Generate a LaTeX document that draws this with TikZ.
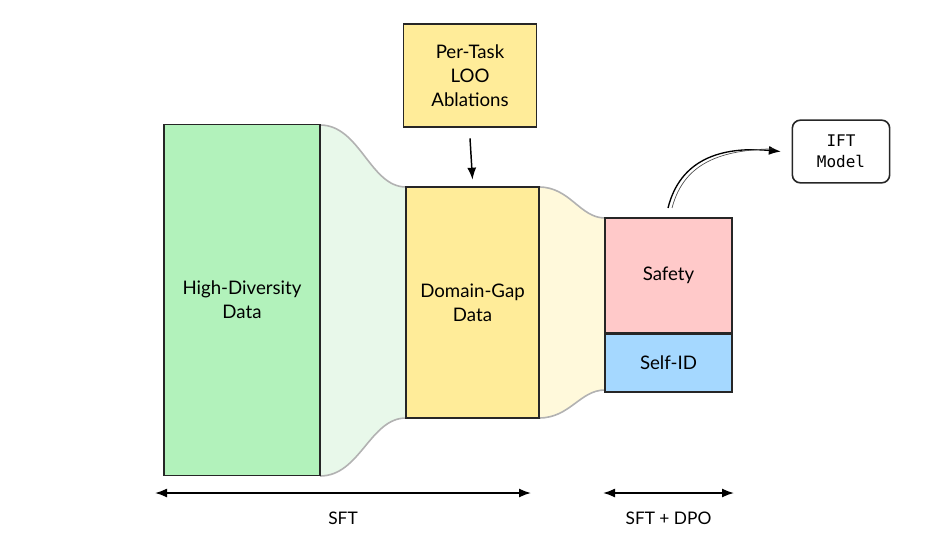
\documentclass[tikz,border=0pt]{standalone}
\usepackage{fontspec}
\setmainfont{Lato}
\setmonofont{DejaVu Sans Mono}
\usetikzlibrary{positioning, arrows.meta}
\definecolor{dgreen}{HTML}{B2F2BB}
\definecolor{lgreen}{HTML}{E8F8EA}
\definecolor{dyellow}{HTML}{FFEC99}
\definecolor{lyellow}{HTML}{FFF9DB}
\definecolor{pinkish}{HTML}{FFC9C9}
\definecolor{bluish}{HTML}{A5D8FF}
\tikzset{
block/.style={draw=black!85, line width=1.2pt, inner sep=0pt, align=center, font=\fontsize{14}{18}\selectfont}, % stage boxes
funnel/.style={draw=black!30, line width=1.2pt}, % transitions between stages
span/.style={{Latex[length=9pt]}-{Latex[length=9pt]}, line width=1.2pt}, % stage ranges
}
\begin{document}
\begin{tikzpicture}[x=0.75pt, y=-0.75pt]
  \useasboundingbox (0,0) rectangle (944,556);
  % funnels
  \fill[lgreen] (320,125) .. controls (360,125) and (370,187) .. (406,187) -- (406,418) .. controls (370,418) and (360,476) .. (320,476) -- cycle;
  \draw[funnel] (320,125) .. controls (360,125) and (370,187) .. (406,187);
  \draw[funnel] (320,476) .. controls (360,476) and (370,418) .. (406,418);
  \fill[lyellow] (539,187) .. controls (570,187) and (580,218) .. (605,218) -- (605,390) .. controls (580,390) and (570,418) .. (539,418) -- cycle;
  \draw[funnel] (539,187) .. controls (570,187) and (580,218) .. (605,218);
  \draw[funnel] (539,418) .. controls (570,418) and (580,390) .. (605,390);
  % stage boxes
  \node[block, fill=dgreen, minimum width=117pt, minimum height=263pt] (hd) at (242,300) {High-Diversity\\Data};
  \node[block, fill=dyellow, minimum width=100pt, minimum height=173pt] (dg) at (472.5,302.5) {Domain-Gap\\Data};
  \node[block, fill=pinkish, minimum width=95pt, minimum height=86pt] (safe) at (668.5,275.5) {Safety};
  \node[block, fill=bluish, minimum width=95pt, minimum height=43pt, below=0pt of safe] (sid) {Self-ID};
  \node[block, fill=dyellow, minimum width=100pt, minimum height=77pt] (loo) at (470,75.5) {Per-Task\\LOO\\Ablations};
  \node[block, rounded corners=6pt, minimum width=73pt, minimum height=47pt, font=\ttfamily\fontsize{12}{16}\selectfont] (ift) at (841,151.5) {IFT\\Model};
  % arrows
  \draw[-{Latex[length=9pt]}, line width=1.1pt] ([yshift=-8pt]loo.south) -- ([yshift=5pt]dg.north);
  \coordinate (out) at (668,208);
  \draw[-{Latex[length=9pt]}, line width=1pt] (out) .. controls (680,160) and (720,146) .. ([xshift=-8pt]ift.west);
  \draw[black!70, line width=0.5pt] ([xshift=3pt]out) .. controls (684,162) and (722,150) .. ([xshift=-14pt,yshift=2pt]ift.west);
  % ranges
  \coordinate (s1) at (155,493); \coordinate (s2) at (531,493);
  \coordinate (d1) at (603,493); \coordinate (d2) at (734,493);
  \draw[span] (s1) -- (s2) node[midway, below=10pt, font=\fontsize{13}{16}\selectfont] {SFT};
  \draw[span] (d1) -- (d2) node[midway, below=10pt, font=\fontsize{13}{16}\selectfont] {SFT + DPO};
\end{tikzpicture}
\end{document}
